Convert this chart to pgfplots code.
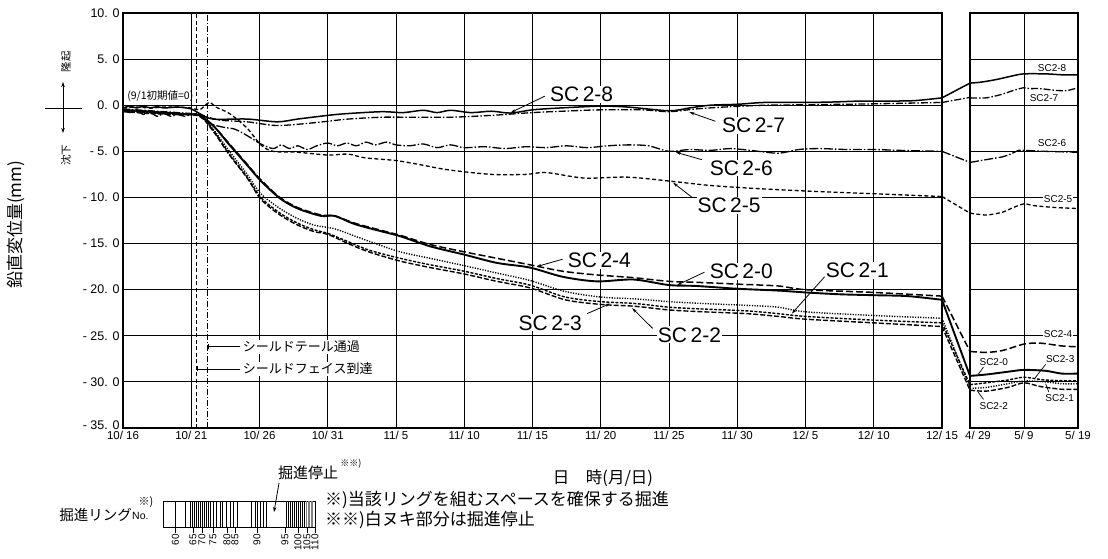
\documentclass[border=0pt]{standalone}
\usepackage{fontspec}
\setmainfont{Liberation Sans}
\newfontfamily\jp{Noto Sans CJK JP}
\usepackage{pgfplots}
\pgfplotsset{compat=1.18}
\usetikzlibrary{arrows.meta}
\tikzset{
 sc0/.style={black, line width=1.9pt},
 sc1/.style={black, line width=1.4pt, dash pattern=on 1.2pt off 1.4pt},
 sc2/.style={black, line width=1.4pt, dash pattern=on 5pt off 2pt},
 sc3/.style={black, line width=1.4pt, dash pattern=on 3pt off 1.5pt},
 sc4/.style={black, line width=1.5pt, dash pattern=on 7pt off 3pt},
 sc5/.style={black, line width=1.3pt, dash pattern=on 4pt off 2.5pt},
 sc6/.style={black, line width=1.3pt, dash pattern=on 9pt off 2pt on 1.5pt off 2pt},
 sc7/.style={black, line width=1.3pt, dash pattern=on 7pt off 2pt on 1.5pt off 2pt},
 sc8/.style={black, line width=1.5pt},
 biglab/.style={font=\fontsize{21}{21}\selectfont, fill=white, inner sep=1pt},
 smlab/.style={font=\fontsize{10}{10}\selectfont, fill=white, inner sep=0.8pt},
 lead/.style={black, line width=0.8pt, -{Stealth[length=5pt,width=3pt]}},
}
\pgfplotsset{
 common/.style={
  scale only axis, anchor=south west,
  ymin=-35, ymax=10, ytick={-35,-30,...,10},
  grid=major, grid style={black, line width=0.8pt},
  axis line style={line width=1.3pt},
  major tick length=0pt,
  /pgf/number format/assume math mode=true,
  x tick label style={font=\fontsize{11.5}{12}\selectfont},
  y tick label style={font=\fontsize{12.5}{13}\selectfont},
 }
}
\begin{document}
\begin{tikzpicture}[x=1pt,y=1pt]
\useasboundingbox (0,0) rectangle (1108,558);
% ===== main panel =====
\begin{axis}[common, at={(123pt,130pt)}, width=819pt, height=415pt,
  xmin=0, xmax=60, xtick={0,5,...,60},
  xticklabels={10/ 16,10/ 21,10/ 26,10/ 31,11/ 5,11/ 10,11/ 15,11/ 20,11/ 25,11/ 30,12/ 5,12/ 10,12/ 15\hspace{14pt}},
  yticklabels={\raisebox{5pt}{- 35. 0},- 30. 0,- 25. 0,- 20. 0,- 15. 0,- 10. 0,- 5. 0,0. 0,5. 0,10. 0},
  clip=false]
% shield face / tail lines
\addplot[black, line width=0.9pt, dash pattern=on 4pt off 2.5pt] coordinates {(5.4,-35) (5.4,10)};
\addplot[black, line width=0.9pt, dash pattern=on 6pt off 2pt on 1pt off 2pt] coordinates {(6.2,-35) (6.2,10)};
% SC2-8
\addplot[sc8, smooth, tension=0.5] coordinates {(0,-0.3) (0.5,-0.1) (1,-0.3) (1.5,-0.1) (2,-0.3) (2.5,-0.15) (3,-0.3) (4,-0.2) (5,-0.4) (5.6,-0.9) (6.6,-1.5) (9.1,-1.5) (11.3,-1.8) (12.8,-1.5) (15,-1.1) (16.5,-0.9) (19,-0.7) (20.5,-0.8) (22,-0.55) (23,-0.8) (24,-0.55) (25.5,-0.8) (27,-0.65) (28.4,-0.85) (30,-0.5) (32,-0.3) (35,-0.1) (37,-0.2) (40,-0.6) (41.5,-0.3) (43,0) (45,0.1) (47,0.3) (50,0.3) (52,0.35) (54,0.45) (56,0.45) (58,0.5) (60,0.8)};
\addplot[sc8] coordinates {(60,0.8) (62.05,2.4)};
% SC2-7
\addplot[sc7, smooth, tension=0.5] coordinates {(0,-0.4) (2,-0.6) (4,-0.8) (5.6,-1.0) (7,-1.6) (9.1,-1.8) (11.3,-2.2) (14,-1.9) (16.5,-1.5) (19,-1.3) (21,-1.3) (24,-1.3) (27,-1.1) (30,-0.8) (33,-0.6) (35,-0.5) (38,-0.5) (40,-0.7) (42,-0.4) (44,-0.2) (47,0) (50,0.05) (55,0.15) (60,0.3)};
\addplot[sc7] coordinates {(60,0.3) (62.05,0.85)};
% SC2-6
\addplot[sc6, smooth, tension=0.5] coordinates {(0,-0.5) (0.5,-0.8) (1,-0.6) (1.5,-1.0) (2,-0.8) (2.5,-1.2) (3,-0.9) (3.5,-1.2) (4,-1.0) (4.5,-1.2) (5,-1.0) (5.6,-1.1) (6.4,-2.0) (7.4,-2.4) (8.2,-2.6) (9.1,-3.3) (10.1,-4.2) (11,-4.7) (11.6,-4.3) (12.2,-4.7) (12.8,-4.4) (13.5,-4.8) (14.2,-4.4) (15,-4.1) (15.7,-4.4) (16.4,-4.1) (17.1,-4.4) (17.8,-4.0) (18.5,-4.3) (19.3,-4.0) (20,-4.3) (21,-4.4) (22,-4.2) (23,-4.6) (24,-4.3) (25,-4.6) (26.5,-4.5) (28,-4.7) (29.5,-4.5) (31,-4.6) (32.5,-4.4) (34,-4.6) (35.5,-4.4) (37,-4.3) (38.5,-4.4) (40,-5.0) (41.5,-4.8) (43,-4.9) (44.5,-4.7) (46,-4.9) (48,-5.2) (49.5,-4.8) (51,-4.7) (53,-4.8) (55,-4.8) (57,-4.9) (60,-5.0)};
\addplot[sc6] coordinates {(60,-5.0) (62.05,-6.2)};
% SC2-5
\addplot[sc5, smooth, tension=0.5] coordinates {(0,-0.3) (1,-0.2) (2,-0.3) (3,-0.2) (4,-0.2) (5,-0.3) (5.6,-0.5) (6.1,0.1) (6.4,0.3) (6.8,-0.2) (7.8,-0.9) (9.1,-2.5) (10.1,-4.3) (11,-5.0) (12.8,-5.1) (15,-5.4) (16.5,-5.3) (17.7,-5.7) (20,-6.0) (21.6,-6.4) (23.8,-7.0) (27,-7.5) (29.5,-7.5) (31,-7.3) (33.8,-7.9) (37,-7.8) (40.5,-8.3) (43,-8.7) (46,-9.0) (50,-9.3) (55,-9.6) (60,-9.9)};
\addplot[sc5] coordinates {(60,-9.9) (62.05,-11.7)};
% SC2-4
\addplot[sc4, smooth, tension=0.5] coordinates {(0,-0.5) (2,-0.7) (4,-0.9) (5.6,-1.1) (6.6,-2.2) (7.8,-4.2) (9.1,-6.4) (10.1,-8.1) (11.5,-10.0) (12.8,-11.1) (14.5,-11.9) (15.5,-12.0) (17,-12.8) (19,-13.6) (20.3,-14.1) (22.5,-15.1) (25,-15.9) (27.4,-16.6) (29.8,-17.3) (32.2,-18.0) (34.7,-18.4) (37.4,-18.7) (40,-19.1) (42,-19.2) (45,-19.4) (48,-19.6) (50,-20.0) (55,-20.3) (60,-20.7)};
\addplot[sc4] coordinates {(60,-20.7) (62.05,-26.7)};
% SC2-0
\addplot[sc0, smooth, tension=0.5] coordinates {(0,-0.5) (1,-0.6) (2,-0.7) (3,-0.8) (4,-0.9) (5,-1.0) (5.6,-1.1) (6.6,-2.2) (7.8,-4.3) (9.1,-6.5) (10.1,-8.2) (11.5,-10.1) (12.8,-11.2) (14.5,-12.0) (15.5,-12.0) (17,-12.9) (19,-13.7) (20.3,-14.2) (22.5,-15.3) (25,-16.2) (27.4,-17.1) (29.8,-17.6) (32.2,-18.6) (34.7,-19.1) (37.4,-18.9) (40,-19.5) (42,-19.6) (45,-19.9) (48,-20.1) (50,-20.3) (52.5,-20.5) (55,-20.6) (57.5,-20.7) (60,-21.1)};
\addplot[sc0] coordinates {(60,-21.1) (62.05,-29.35)};
% SC2-1
\addplot[sc1, smooth, tension=0.5] coordinates {(0,-0.6) (2,-0.8) (4,-1.0) (5.6,-1.1) (6.6,-2.6) (7.8,-5.0) (9.1,-7.5) (10.1,-9.6) (11.5,-11.2) (12.8,-12.3) (14,-13.0) (15.5,-13.4) (17,-14.2) (18.5,-15.0) (20.3,-15.9) (22.5,-16.6) (25,-17.4) (27.4,-18.2) (29.8,-19.0) (32.4,-20.2) (35,-20.8) (37.5,-21.0) (40,-21.3) (42.5,-21.5) (45.7,-21.7) (48,-21.9) (50,-22.4) (55,-22.8) (60,-23.1)};
\addplot[sc1] coordinates {(60,-23.1) (62.05,-30.7)};
% SC2-3
\addplot[sc3, smooth, tension=0.5] coordinates {(0,-0.6) (2,-0.8) (4,-1.0) (5.6,-1.1) (6.6,-2.7) (7.8,-5.3) (9.1,-7.8) (10.1,-10.0) (11.5,-11.7) (12.8,-12.8) (14,-13.5) (15,-13.9) (16.5,-14.8) (18,-15.7) (20.3,-16.6) (22.5,-17.3) (25,-18.0) (27.4,-18.8) (29.8,-19.5) (32.4,-20.8) (35,-21.3) (37.5,-21.5) (40,-21.9) (42.5,-22.1) (45.7,-22.3) (48,-22.6) (50,-22.9) (55,-23.3) (60,-23.6)};
\addplot[sc3] coordinates {(60,-23.6) (62.05,-30.3)};
% SC2-2
\addplot[sc2, smooth, tension=0.5] coordinates {(0,-0.7) (2,-0.9) (4,-1.0) (5.6,-1.2) (6.6,-2.8) (7.8,-5.4) (9.1,-7.9) (10.1,-10.2) (11.5,-11.9) (12.8,-13.0) (14,-13.7) (15,-14.0) (16.5,-15.0) (18,-15.9) (20.3,-16.9) (22.5,-17.6) (25,-18.3) (27.4,-19.1) (29.8,-19.8) (32.4,-21.1) (35,-21.6) (37.5,-21.8) (40,-22.2) (42.5,-22.4) (45.7,-22.6) (48,-22.9) (50,-23.2) (55,-23.6) (60,-24.0)};
\addplot[sc2] coordinates {(60,-24.0) (62.05,-30.9)};
% labels
\node[biglab] at (axis cs:33.6,1.2) {SC\,2-8};
\draw[lead] (axis cs:30.9,0.98) -- (axis cs:28.4,-0.8);
\node[biglab] at (axis cs:46.2,-2.2) {SC\,2-7};
\draw[lead] (axis cs:43.4,-1.74) -- (axis cs:41.5,-0.75);
\node[biglab] at (axis cs:45.3,-6.8) {SC\,2-6};
\draw[lead] (axis cs:42.4,-5.9) -- (axis cs:40.5,-5.1);
\node[biglab] at (axis cs:44.4,-10.9) {SC\,2-5};
\draw[lead] (axis cs:41.7,-10.0) -- (axis cs:40.3,-8.4);
\node[biglab] at (axis cs:34.9,-16.8) {SC\,2-4};
\draw[lead] (axis cs:32.2,-16.7) -- (axis cs:30.3,-17.5);
\node[biglab] at (axis cs:45.3,-18.0) {SC\,2-0};
\draw[lead] (axis cs:42.6,-18.1) -- (axis cs:40.6,-19.5);
\node[biglab] at (axis cs:53.8,-17.9) {SC\,2-1};
\draw[lead] (axis cs:51.4,-18.6) -- (axis cs:49.0,-22.6);
\node[biglab] at (axis cs:31.3,-23.6) {SC\,2-3};
\draw[lead] (axis cs:34.0,-22.6) -- (axis cs:35.7,-21.5);
\node[biglab] at (axis cs:41.5,-24.9) {SC\,2-2};
\draw[lead] (axis cs:38.8,-24.2) -- (axis cs:37.3,-22.0);
\node[font=\jp\fontsize{10.5}{11}\selectfont, anchor=west, inner sep=0pt] at (axis cs:0.3,1.0) {(9/1初期値=0)};
% shield annotations
\draw[black, line width=0.8pt, {Bar[width=5pt]}-] (axis cs:6.2,-26.2) -- (axis cs:8.6,-26.2);
\node[font=\jp\fontsize{13}{13}\selectfont, anchor=west, fill=white, inner sep=1pt] at (axis cs:8.7,-26.2) {シールドテール通過};
\draw[black, line width=0.8pt, {Bar[width=5pt]}-] (axis cs:5.4,-28.6) -- (axis cs:8.6,-28.6);
\node[font=\jp\fontsize{13}{13}\selectfont, anchor=west, fill=white, inner sep=1pt] at (axis cs:8.7,-28.6) {シールドフェイス到達};
\end{axis}
% ===== right panel =====
\begin{axis}[common, at={(970pt,130pt)}, width=108pt, height=415pt,
  xmin=0, xmax=20, xtick={0,10,20}, xticklabels={\hspace{16pt}4/ 29,5/ 9,5/ 19},
  yticklabels={}]
\addplot[sc8, smooth] coordinates {(0,2.4) (2,2.5) (5,2.8) (8,3.2) (10,3.4) (14,3.4) (17,3.3) (20,3.3)};
\addplot[sc7, smooth] coordinates {(0,0.8) (3,0.8) (6,1.2) (8,1.6) (10,1.9) (11,1.8) (13,1.8) (16,1.6) (18,1.6) (20,1.9)};
\addplot[sc6, smooth] coordinates {(0,-6.2) (2,-6.0) (4,-5.8) (6,-5.6) (7.5,-5.3) (9,-4.9) (10,-4.9) (14,-5.0) (20,-5.1)};
\addplot[sc5, smooth] coordinates {(0,-11.7) (3,-11.9) (6,-11.6) (8,-11.1) (10,-10.7) (12,-10.9) (16,-11.1) (20,-11.2)};
\addplot[sc4, smooth] coordinates {(0,-26.7) (3,-26.8) (6,-26.6) (10,-25.9) (13,-25.8) (17,-26.1) (20,-26.2)};
\addplot[sc0, smooth] coordinates {(0,-29.35) (3,-29.2) (7,-28.9) (10,-28.7) (14,-28.8) (17,-29.1) (20,-29.1)};
\addplot[sc3, smooth] coordinates {(0,-30.3) (3,-30.1) (7,-29.8) (10,-29.5) (14,-29.8) (20,-29.9)};
\addplot[sc1, smooth] coordinates {(0,-30.7) (3,-30.6) (7,-30.2) (10,-29.9) (14,-30.0) (17,-30.2) (20,-30.2)};
\addplot[sc2, smooth] coordinates {(0,-30.9) (3,-31.0) (7,-30.6) (10,-30.1) (13,-30.5) (17,-30.8) (20,-30.8)};
\node[smlab] at (axis cs:15.2,4.0) {SC2-8};
\node[smlab] at (axis cs:13.7,0.75) {SC2-7};
\node[smlab] at (axis cs:15.2,-4.1) {SC2-6};
\node[smlab] at (axis cs:16.3,-10.2) {SC2-5};
\node[smlab] at (axis cs:16.3,-24.8) {SC2-4};
\node[smlab] at (axis cs:4.4,-27.8) {SC2-0};
\draw[black, line width=0.7pt] (axis cs:2.5,-28.4) -- (axis cs:1.5,-29.2);
\node[smlab] at (axis cs:16.7,-27.5) {SC2-3};
\draw[black, line width=0.7pt] (axis cs:14.0,-28.1) -- (axis cs:12.0,-29.6);
\node[smlab] at (axis cs:4.4,-32.6) {SC2-2};
\draw[black, line width=0.7pt] (axis cs:2.5,-31.9) -- (axis cs:1.5,-31.1);
\node[smlab] at (axis cs:16.6,-31.8) {SC2-1};
\draw[black, line width=0.7pt] (axis cs:14.6,-31.1) -- (axis cs:14.0,-30.2);
\end{axis}
% ===== ring bar =====
\begin{axis}[at={(163pt,31pt)}, anchor=south west, width=152pt, height=26pt, scale only axis,
  xmin=0, xmax=152, ymin=0, ymax=1, ytick=\empty,
  xtick={12.5,30,39,50,64,72,94,122,135,144,152},
  xticklabels={60,65,70,75,80,85,90,95,100,105,110},
  x tick label style={rotate=90, anchor=east, font=\fontsize{10}{10}\selectfont, inner sep=1pt},
  /pgf/number format/assume math mode=true,
  xtick pos=bottom, tick align=outside, major tick length=6pt,
  tick style={black, line width=0.8pt},
  axis line style={line width=1pt}]
\addplot[ycomb, black, line width=0.6pt] coordinates {(12.7,1) (22,1) (27,1) (29,1) (31,1) (33,1) (35,1) (37,1) (39,1) (41,1) (43,1) (45,1) (47,1) (50.3,1) (53.7,1) (57,1) (59.7,1) (63.7,1) (67,1) (70.3,1) (74.3,1) (88.7,1) (92,1) (94.3,1) (97,1) (100.3,1) (103,1) (123,1) (125,1) (127,1) (129,1) (131,1) (133,1) (135,1) (137,1) (139,1) (141,1)};
\addplot[ycomb, gray, line width=0.8pt] coordinates {(143.5,1) (145,1) (146.5,1) (148,1) (149.5,1)};
\end{axis}
% ===== outside annotations =====
\node[rotate=90, font=\jp\fontsize{17}{17}\selectfont] at (16,333) {鉛直変位量(mm)};
\draw[black, line width=0.9pt] (45,450) -- (82,450);
\draw[black, line width=0.9pt, {Stealth[length=5pt,width=3.5pt]}-{Stealth[length=5pt,width=3.5pt]}] (63,476) -- (63,425);
\node[rotate=90, font=\jp\fontsize{10.5}{10.5}\selectfont] at (66,496) {隆起};
\node[rotate=90, font=\jp\fontsize{10.5}{10.5}\selectfont] at (66,403) {沈下};
\node[font=\jp\fontsize{16.5}{17}\selectfont] at (603,80) {日　時(月/日)};
\node[font=\jp\fontsize{15}{15}\selectfont] at (308,85) {掘進停止};
\node[font=\jp\fontsize{9}{9}\selectfont] at (351,94) {※※)};
\draw[black, line width=0.8pt, -{Stealth[length=5pt,width=3.5pt]}] (279,75) -- (274,46);
\node[font=\jp\fontsize{14.5}{15}\selectfont, anchor=east, inner sep=0pt] at (132,43) {掘進リング};
\node[font=\fontsize{10.5}{11}\selectfont, anchor=west, inner sep=0pt] at (132,42) {No.};
\node[font=\jp\fontsize{11}{11}\selectfont] at (146,56) {※)};
\node[font=\jp\fontsize{17}{17}\selectfont, anchor=west, inner sep=0pt] at (325,58) {※)当該リングを組むスペースを確保する掘進};
\node[font=\jp\fontsize{17}{17}\selectfont, anchor=west, inner sep=0pt] at (325,38) {※※)白ヌキ部分は掘進停止};
\end{tikzpicture}
\end{document}
